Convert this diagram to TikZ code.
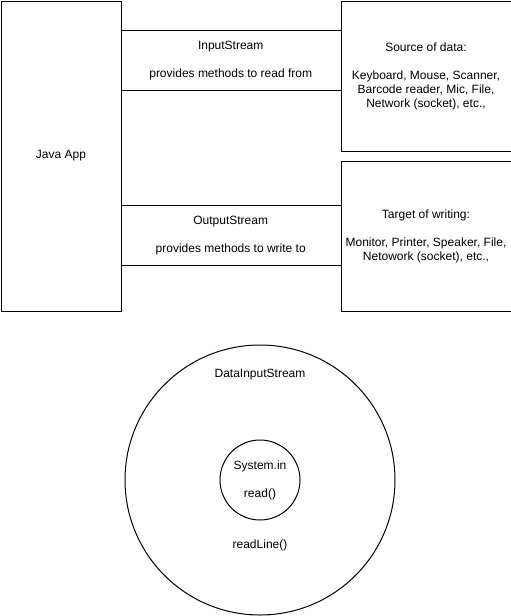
\documentclass[tikz,border=0pt]{standalone}
\usepackage{fontspec}
\setmainfont{Liberation Sans}
\begin{document}
\begin{tikzpicture}[x=1pt,y=-1pt,
  every node/.style={font=\fontsize{12}{14}\selectfont, inner sep=0pt, align=center},
  box/.style={draw, line width=1pt, anchor=north west},
  band/.style={minimum width=220pt, minimum height=60pt, anchor=north west},
  ring/.style={draw, circle, line width=1pt},
  edgeline/.style={line width=1pt}]
\useasboundingbox (0,0) rectangle (511,616);
\node[box, minimum width=120pt, minimum height=310pt] (app) at (0.5,0.5) {Java App};
\node[box, minimum width=170pt, minimum height=150pt] (src) at (340.5,0.5)
  {Source of data:\\[14pt]Keyboard, Mouse, Scanner,\\Barcode reader, Mic, File,\\Network (socket), etc.,};
\node[box, minimum width=170pt, minimum height=150pt] (tgt) at (340.5,160.5)
  {Target of writing:\\[14pt]Monitor, Printer, Speaker, File,\\Netowork (socket), etc.,};
\node[band] (ins) at (120.5,30.5) {InputStream\\[14pt]provides methods to read from};
\node[band] (outs) at (120.5,205.5) {OutputStream\\[14pt]provides methods to write to};
\draw[edgeline] (ins.north west) -- (ins.north east);
\draw[edgeline] (ins.south west) -- (ins.south east);
\draw[edgeline] (outs.north west) -- (outs.north east);
\draw[edgeline] (outs.south west) -- (outs.south east);
\node[ring, minimum size=270pt] (outer) at (260,480) {};
\node[ring, minimum size=80pt] (inner) at (260,480) {System.in\\[14pt]read()};
\node (dis) at (260,375) {DataInputStream};
\node (rl) at (260,545) {readLine()};
\end{tikzpicture}
\end{document}
